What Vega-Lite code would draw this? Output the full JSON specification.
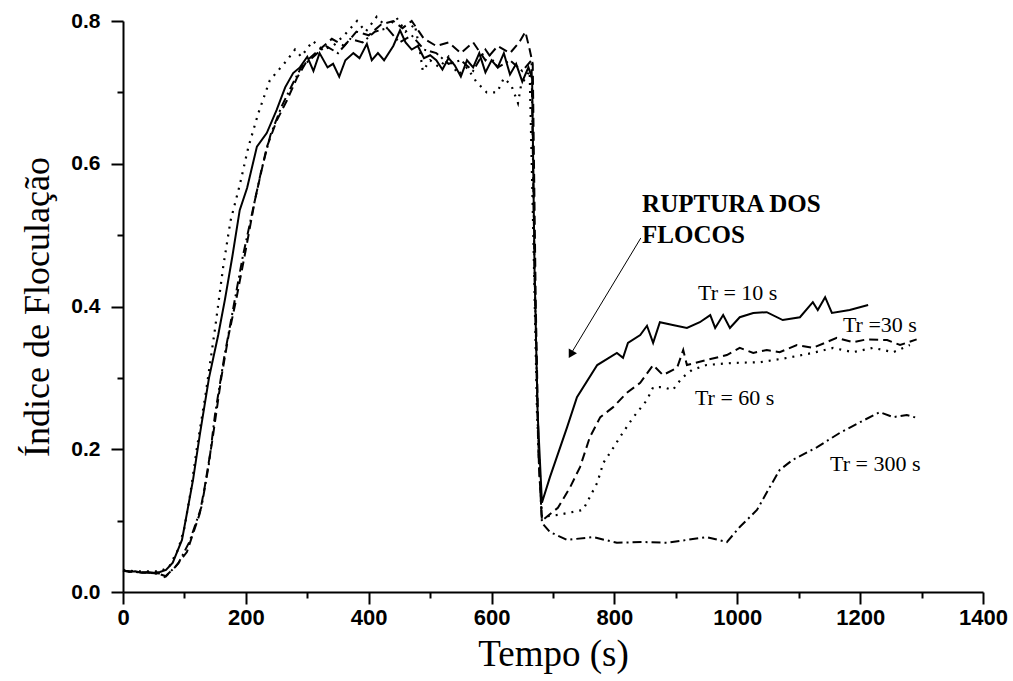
{
  "$schema": "https://vega.github.io/schema/vega-lite/v6.json",
  "autosize": "none",
  "width": 860,
  "height": 571,
  "padding": {"left": 123, "top": 21, "right": 30, "bottom": 89},
  "background": "white",
  "config": {"view": {"stroke": null}},
  "datasets": {
    "tr10": [
      {"t":0,"v":0.030},{"t":10,"v":0.028},{"t":20,"v":0.029},{"t":30,"v":0.027},{"t":40,"v":0.028},{"t":50,"v":0.027},{"t":60,"v":0.028},{"t":70,"v":0.031},{"t":81,"v":0.041},{"t":96,"v":0.073},{"t":104,"v":0.11},{"t":114,"v":0.157},{"t":125,"v":0.22},{"t":140,"v":0.30},{"t":155,"v":0.36},{"t":166,"v":0.41},{"t":178,"v":0.47},{"t":190,"v":0.535},{"t":202,"v":0.566},{"t":218,"v":0.624},{"t":234,"v":0.643},{"t":250,"v":0.675},{"t":264,"v":0.707},{"t":277,"v":0.727},{"t":288,"v":0.735},{"t":300,"v":0.75},{"t":310,"v":0.73},{"t":320,"v":0.755},{"t":333,"v":0.735},{"t":342,"v":0.74},{"t":352,"v":0.722},{"t":362,"v":0.745},{"t":375,"v":0.755},{"t":385,"v":0.748},{"t":397,"v":0.768},{"t":405,"v":0.745},{"t":415,"v":0.755},{"t":425,"v":0.745},{"t":440,"v":0.765},{"t":451,"v":0.787},{"t":460,"v":0.77},{"t":470,"v":0.76},{"t":480,"v":0.765},{"t":490,"v":0.748},{"t":500,"v":0.752},{"t":510,"v":0.745},{"t":520,"v":0.732},{"t":530,"v":0.748},{"t":540,"v":0.738},{"t":550,"v":0.722},{"t":560,"v":0.745},{"t":570,"v":0.735},{"t":580,"v":0.755},{"t":590,"v":0.728},{"t":600,"v":0.745},{"t":610,"v":0.735},{"t":620,"v":0.755},{"t":630,"v":0.725},{"t":640,"v":0.74},{"t":650,"v":0.715},{"t":660,"v":0.735},{"t":666,"v":0.72},{"t":670,"v":0.45},{"t":675,"v":0.25},{"t":682,"v":0.125},{"t":695,"v":0.161},{"t":723,"v":0.231},{"t":739,"v":0.273},{"t":772,"v":0.318},{"t":804,"v":0.335},{"t":814,"v":0.328},{"t":822,"v":0.349},{"t":842,"v":0.36},{"t":853,"v":0.373},{"t":863,"v":0.349},{"t":874,"v":0.378},{"t":895,"v":0.374},{"t":918,"v":0.37},{"t":939,"v":0.378},{"t":956,"v":0.388},{"t":964,"v":0.37},{"t":977,"v":0.388},{"t":988,"v":0.37},{"t":1004,"v":0.385},{"t":1026,"v":0.391},{"t":1048,"v":0.392},{"t":1074,"v":0.381},{"t":1102,"v":0.385},{"t":1123,"v":0.406},{"t":1131,"v":0.395},{"t":1143,"v":0.413},{"t":1154,"v":0.391},{"t":1183,"v":0.395},{"t":1213,"v":0.402}
    ],
    "tr30": [
      {"t":0,"v":0.030},{"t":20,"v":0.028},{"t":40,"v":0.027},{"t":60,"v":0.026},{"t":68,"v":0.021},{"t":85,"v":0.035},{"t":104,"v":0.056},{"t":125,"v":0.11},{"t":133,"v":0.147},{"t":145,"v":0.21},{"t":160,"v":0.30},{"t":172,"v":0.36},{"t":185,"v":0.413},{"t":200,"v":0.48},{"t":215,"v":0.55},{"t":234,"v":0.623},{"t":250,"v":0.66},{"t":267,"v":0.689},{"t":283,"v":0.72},{"t":300,"v":0.745},{"t":320,"v":0.76},{"t":340,"v":0.775},{"t":360,"v":0.765},{"t":380,"v":0.785},{"t":400,"v":0.78},{"t":420,"v":0.795},{"t":440,"v":0.80},{"t":455,"v":0.79},{"t":470,"v":0.80},{"t":490,"v":0.775},{"t":510,"v":0.765},{"t":530,"v":0.77},{"t":550,"v":0.755},{"t":570,"v":0.77},{"t":590,"v":0.745},{"t":610,"v":0.765},{"t":630,"v":0.755},{"t":645,"v":0.77},{"t":655,"v":0.785},{"t":662,"v":0.76},{"t":667,"v":0.74},{"t":672,"v":0.40},{"t":677,"v":0.18},{"t":682,"v":0.10},{"t":708,"v":0.118},{"t":728,"v":0.147},{"t":744,"v":0.175},{"t":760,"v":0.217},{"t":777,"v":0.245},{"t":798,"v":0.259},{"t":820,"v":0.279},{"t":842,"v":0.293},{"t":863,"v":0.318},{"t":879,"v":0.304},{"t":902,"v":0.314},{"t":912,"v":0.339},{"t":918,"v":0.318},{"t":950,"v":0.325},{"t":983,"v":0.332},{"t":1004,"v":0.342},{"t":1026,"v":0.335},{"t":1048,"v":0.339},{"t":1069,"v":0.336},{"t":1097,"v":0.346},{"t":1123,"v":0.342},{"t":1162,"v":0.356},{"t":1188,"v":0.35},{"t":1211,"v":0.354},{"t":1244,"v":0.353},{"t":1265,"v":0.346},{"t":1292,"v":0.354}
    ],
    "tr60": [
      {"t":0,"v":0.031},{"t":20,"v":0.029},{"t":40,"v":0.029},{"t":60,"v":0.029},{"t":75,"v":0.035},{"t":90,"v":0.06},{"t":100,"v":0.09},{"t":110,"v":0.14},{"t":120,"v":0.20},{"t":135,"v":0.28},{"t":150,"v":0.37},{"t":163,"v":0.455},{"t":175,"v":0.52},{"t":190,"v":0.57},{"t":204,"v":0.623},{"t":220,"v":0.67},{"t":239,"v":0.717},{"t":252,"v":0.73},{"t":267,"v":0.745},{"t":280,"v":0.76},{"t":290,"v":0.75},{"t":309,"v":0.772},{"t":325,"v":0.76},{"t":342,"v":0.765},{"t":360,"v":0.78},{"t":381,"v":0.80},{"t":395,"v":0.785},{"t":413,"v":0.806},{"t":430,"v":0.79},{"t":445,"v":0.805},{"t":460,"v":0.785},{"t":475,"v":0.795},{"t":483,"v":0.76},{"t":488,"v":0.73},{"t":500,"v":0.745},{"t":515,"v":0.735},{"t":530,"v":0.75},{"t":545,"v":0.725},{"t":560,"v":0.735},{"t":575,"v":0.715},{"t":592,"v":0.70},{"t":609,"v":0.70},{"t":620,"v":0.72},{"t":632,"v":0.71},{"t":643,"v":0.685},{"t":648,"v":0.71},{"t":662,"v":0.73},{"t":668,"v":0.5},{"t":674,"v":0.25},{"t":682,"v":0.105},{"t":708,"v":0.108},{"t":749,"v":0.115},{"t":772,"v":0.153},{"t":782,"v":0.181},{"t":796,"v":0.199},{"t":809,"v":0.217},{"t":830,"v":0.244},{"t":853,"v":0.269},{"t":863,"v":0.287},{"t":879,"v":0.287},{"t":895,"v":0.283},{"t":910,"v":0.30},{"t":926,"v":0.311},{"t":950,"v":0.318},{"t":993,"v":0.321},{"t":1037,"v":0.322},{"t":1081,"v":0.328},{"t":1123,"v":0.335},{"t":1156,"v":0.342},{"t":1188,"v":0.336},{"t":1221,"v":0.342},{"t":1254,"v":0.336},{"t":1281,"v":0.346}
    ],
    "tr300": [
      {"t":0,"v":0.030},{"t":20,"v":0.028},{"t":40,"v":0.027},{"t":60,"v":0.025},{"t":70,"v":0.022},{"t":90,"v":0.04},{"t":108,"v":0.07},{"t":128,"v":0.12},{"t":140,"v":0.18},{"t":150,"v":0.25},{"t":165,"v":0.33},{"t":180,"v":0.40},{"t":195,"v":0.47},{"t":210,"v":0.53},{"t":225,"v":0.59},{"t":240,"v":0.64},{"t":258,"v":0.68},{"t":275,"v":0.71},{"t":290,"v":0.735},{"t":310,"v":0.75},{"t":330,"v":0.765},{"t":350,"v":0.755},{"t":370,"v":0.775},{"t":390,"v":0.77},{"t":410,"v":0.785},{"t":430,"v":0.79},{"t":450,"v":0.77},{"t":470,"v":0.78},{"t":490,"v":0.76},{"t":510,"v":0.755},{"t":530,"v":0.74},{"t":550,"v":0.745},{"t":570,"v":0.73},{"t":590,"v":0.76},{"t":610,"v":0.735},{"t":630,"v":0.745},{"t":650,"v":0.73},{"t":665,"v":0.745},{"t":670,"v":0.45},{"t":676,"v":0.2},{"t":682,"v":0.097},{"t":695,"v":0.084},{"t":723,"v":0.073},{"t":765,"v":0.077},{"t":804,"v":0.069},{"t":847,"v":0.07},{"t":886,"v":0.069},{"t":918,"v":0.073},{"t":950,"v":0.077},{"t":983,"v":0.07},{"t":1004,"v":0.091},{"t":1032,"v":0.115},{"t":1053,"v":0.147},{"t":1069,"v":0.171},{"t":1090,"v":0.185},{"t":1130,"v":0.203},{"t":1167,"v":0.223},{"t":1200,"v":0.238},{"t":1232,"v":0.252},{"t":1254,"v":0.245},{"t":1276,"v":0.248},{"t":1292,"v":0.244}
    ],
    "labels": [
      {"t":845,"v":0.532,"txt":"RUPTURA DOS","kind":"bold"},
      {"t":845,"v":0.489,"txt":"FLOCOS","kind":"bold"},
      {"t":936,"v":0.409,"txt":"Tr = 10 s","kind":"tr"},
      {"t":1172,"v":0.364,"txt":"Tr =30 s","kind":"tr"},
      {"t":931,"v":0.262,"txt":"Tr = 60 s","kind":"tr"},
      {"t":1151,"v":0.169,"txt":"Tr = 300 s","kind":"tr"}
    ],
    "arrow": [{"t":843,"v":0.496,"t2":728,"v2":0.332}],
    "head": [{"t":729,"v":0.333}]
  },
  "layer": [
    {
      "data": {"name": "tr10"},
      "mark": {"type": "line", "color": "black", "strokeWidth": 2},
      "encoding": {
        "x": {"field": "t", "type": "quantitative",
          "scale": {"domain": [0, 1400], "nice": false, "zero": true},
          "axis": {
            "title": "Tempo (s)",
            "values": [0,100,200,300,400,500,600,700,800,900,1000,1100,1200,1300,1400],
            "labelExpr": "datum.value % 200 === 0 ? datum.label : ''",
            "format": "d",
            "grid": false,
            "domainColor": "black", "domainWidth": 2,
            "tickColor": "black", "tickWidth": 2,
            "tickSize": {"condition": {"test": "datum.value % 200 === 0", "value": 12}, "value": 6},
            "labelPadding": 3,
            "labelFont": "Liberation Sans", "labelFontWeight": "bold", "labelFontSize": 22, "labelColor": "black",
            "labelOverlap": false, "labelFlush": false,
            "titleFont": "Liberation Serif", "titleFontWeight": "normal", "titleFontSize": 37, "titleColor": "black",
            "titlePadding": 8
          }
        },
        "y": {"field": "v", "type": "quantitative",
          "scale": {"domain": [0, 0.8], "nice": false},
          "axis": {
            "title": "Índice de Floculação",
            "values": [0,0.1,0.2,0.3,0.4,0.5,0.6,0.7,0.8],
            "labelExpr": "round(datum.value*10) % 2 === 0 ? datum.label : ''",
            "format": ".1f",
            "grid": false,
            "domainColor": "black", "domainWidth": 2,
            "tickColor": "black", "tickWidth": 2,
            "tickSize": {"condition": {"test": "round(datum.value*10) % 2 === 0", "value": 12}, "value": 6},
            "labelPadding": 11,
            "labelFont": "Liberation Sans", "labelFontWeight": "bold", "labelFontSize": 21, "labelColor": "black",
            "labelOverlap": false, "labelFlush": false,
            "titleFont": "Liberation Serif", "titleFontWeight": "normal", "titleFontSize": 36, "titleColor": "black",
            "titlePadding": 14
          }
        }
      }
    },
    {
      "data": {"name": "tr30"},
      "mark": {"type": "line", "color": "black", "strokeWidth": 2, "strokeDash": [9, 5]},
      "encoding": {"x": {"field": "t", "type": "quantitative"}, "y": {"field": "v", "type": "quantitative"}}
    },
    {
      "data": {"name": "tr60"},
      "mark": {"type": "line", "color": "black", "strokeWidth": 2.2, "strokeDash": [2, 6]},
      "encoding": {"x": {"field": "t", "type": "quantitative"}, "y": {"field": "v", "type": "quantitative"}}
    },
    {
      "data": {"name": "tr300"},
      "mark": {"type": "line", "color": "black", "strokeWidth": 2, "strokeDash": [9, 4, 2, 4]},
      "encoding": {"x": {"field": "t", "type": "quantitative"}, "y": {"field": "v", "type": "quantitative"}}
    },
    {
      "data": {"name": "arrow"},
      "mark": {"type": "rule", "color": "black", "strokeWidth": 1},
      "encoding": {
        "x": {"field": "t", "type": "quantitative"}, "y": {"field": "v", "type": "quantitative"},
        "x2": {"field": "t2"}, "y2": {"field": "v2"}
      }
    },
    {
      "data": {"name": "head"},
      "mark": {"type": "point", "shape": "triangle-down", "filled": true, "color": "black", "opacity": 1, "size": 90, "angle": 30},
      "encoding": {"x": {"field": "t", "type": "quantitative"}, "y": {"field": "v", "type": "quantitative"}}
    },
    {
      "data": {"name": "labels"},
      "transform": [{"filter": "datum.kind === 'bold'"}],
      "mark": {"type": "text", "align": "left", "baseline": "alphabetic", "font": "Liberation Serif", "fontWeight": "bold", "fontSize": 25, "color": "black"},
      "encoding": {"x": {"field": "t", "type": "quantitative"}, "y": {"field": "v", "type": "quantitative"}, "text": {"field": "txt"}}
    },
    {
      "data": {"name": "labels"},
      "transform": [{"filter": "datum.kind === 'tr'"}],
      "mark": {"type": "text", "align": "left", "baseline": "alphabetic", "font": "Liberation Serif", "fontSize": 22, "color": "black"},
      "encoding": {"x": {"field": "t", "type": "quantitative"}, "y": {"field": "v", "type": "quantitative"}, "text": {"field": "txt"}}
    }
  ]
}
